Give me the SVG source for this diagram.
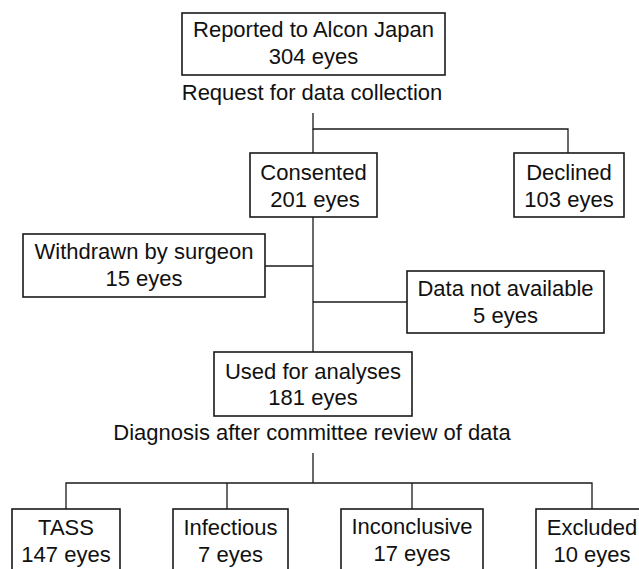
<svg xmlns="http://www.w3.org/2000/svg" width="639" height="569" viewBox="0 0 639 569">
<style>
.box{fill:#fff;stroke:#1a1a1a;stroke-width:1.6}
.ln{fill:none;stroke:#1a1a1a;stroke-width:1.3}
text{font-family:"Liberation Sans",Arial,sans-serif;font-size:22px;fill:#111;text-anchor:middle}
</style>
<rect width="639" height="569" fill="#fff"/>
<g id="connectors">
<path class="ln" d="M313 113V129H568V153"/>
<path class="ln" d="M313 129V153"/>
<path class="ln" d="M313 217V352"/>
<path class="ln" d="M265 266H313"/>
<path class="ln" d="M313 302H407"/>
<path class="ln" d="M313 453V483"/>
<path class="ln" d="M66 509V483H592V509"/>
<path class="ln" d="M227 483V509"/>
<path class="ln" d="M412 483V509"/>
</g>
<g id="reported">
<rect class="box" x="182" y="13" width="263" height="62"/>
<text x="313.5" y="37">Reported to Alcon Japan</text>
<text x="313.5" y="64">304 eyes</text>
</g>
<text id="request-label" x="312" y="100">Request for data collection</text>
<g id="consented">
<rect class="box" x="250" y="153" width="127" height="64"/>
<text x="313.5" y="180">Consented</text>
<text x="315" y="207">201 eyes</text>
</g>
<g id="declined">
<rect class="box" x="514" y="153" width="110" height="64"/>
<text x="569" y="180">Declined</text>
<text x="569" y="207">103 eyes</text>
</g>
<g id="withdrawn">
<rect class="box" x="23" y="234" width="242" height="63"/>
<text x="144" y="259">Withdrawn by surgeon</text>
<text x="144" y="286">15 eyes</text>
</g>
<g id="notavailable">
<rect class="box" x="407" y="271" width="197" height="62"/>
<text x="505.5" y="296">Data not available</text>
<text x="505.5" y="323">5 eyes</text>
</g>
<g id="used">
<rect class="box" x="214" y="352" width="198" height="64"/>
<text x="313" y="379">Used for analyses</text>
<text x="313" y="405">181 eyes</text>
</g>
<text id="diagnosis-label" x="312" y="440">Diagnosis after committee review of data</text>
<g id="tass">
<rect class="box" x="12" y="509" width="108" height="70"/>
<text x="66" y="535">TASS</text>
<text x="66" y="562">147 eyes</text>
</g>
<g id="infectious">
<rect class="box" x="173" y="509" width="115" height="70"/>
<text x="230.5" y="535">Infectious</text>
<text x="230.5" y="562">7 eyes</text>
</g>
<g id="inconclusive">
<rect class="box" x="341" y="509" width="142" height="70"/>
<text x="412" y="534">Inconclusive</text>
<text x="412" y="561">17 eyes</text>
</g>
<g id="excluded">
<rect class="box" x="536" y="509" width="112" height="70"/>
<text x="592" y="535">Excluded</text>
<text x="592" y="562">10 eyes</text>
</g>
</svg>
